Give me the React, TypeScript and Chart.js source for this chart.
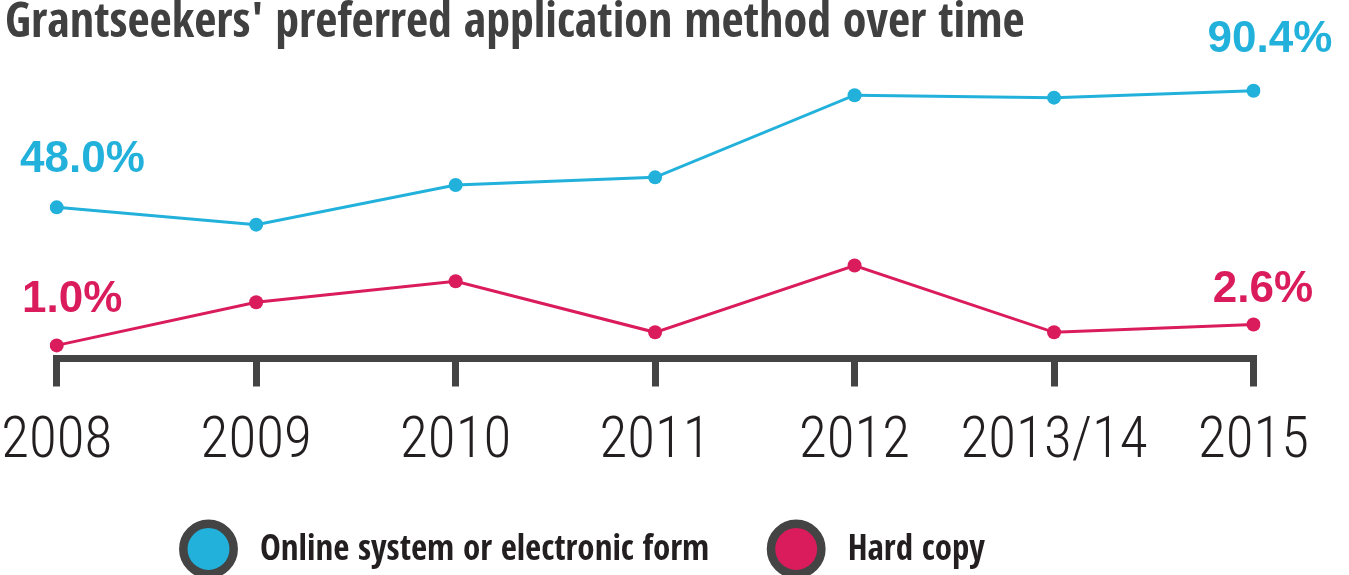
import React, { useEffect, useRef } from 'react';
import { Chart, registerables } from 'chart.js';

Chart.register(...registerables);

const chartTitle = "Grantseekers' preferred application method over time";
const categories = ['2008', '2009', '2010', '2011', '2012', '2013/14', '2015'];
const onlineLabel = 'Online system or electronic form';
const onlineValues = [48.0, 41.7, 56.1, 58.9, 88.8, 87.9, 90.4];
const hardLabel = 'Hard copy';
const hardValues = [1.0, 4.3, 5.9, 2.0, 7.1, 2.0, 2.6];

const ONLINE_COLOR = '#21b1db';
const HARD_COLOR = '#da1c5c';
const AXIS_COLOR = '#444444';
const TEXT_COLOR = '#231f20';

const BOLD_FAMILY = '"Open Sans Condensed", "Roboto Condensed", sans-serif';
const LIGHT_FAMILY = '"Roboto Condensed", "DejaVu Sans Condensed", sans-serif';

function fitSize(family: string, weight: string, text: string, target: number, maxSize: number): number {
  const c = document.createElement('canvas').getContext('2d') as CanvasRenderingContext2D;
  c.font = `${weight} 100px ${family}`;
  const w = c.measureText(text).width;
  return Math.min(maxSize, (100 * target) / w);
}

// label placement relative to the first / last point of each series
const labelOffsets = [
  [
    { align: 'left', dx: -36.7, dy: -35 },
    { align: 'center', dx: 16.5, dy: -38.7 },
  ],
  [
    { align: 'left', dx: -34.7, dy: -33.7 },
    { align: 'center', dx: 9.5, dy: -22.7 },
  ],
];

const endLabelsPlugin = {
  id: 'endLabels',
  afterDatasetsDraw(chart: any) {
    const ctx = chart.ctx;
    ctx.save();
    ctx.font = 'bold 44px "Liberation Sans"';
    ctx.textBaseline = 'alphabetic';
    chart.data.datasets.forEach((ds: any, di: number) => {
      const meta = chart.getDatasetMeta(di);
      const n = meta.data.length;
      [0, n - 1].forEach((idx, k) => {
        const pt = meta.data[idx];
        const o = labelOffsets[di][k];
        ctx.fillStyle = ds.borderColor;
        ctx.textAlign = o.align;
        ctx.fillText(Number(ds.data[idx]).toFixed(1) + '%', pt.x + o.dx, pt.y + o.dy);
      });
    });
    ctx.restore();
  },
};

const ringLegendPlugin = {
  id: 'ringLegend',
  afterDraw(chart: any) {
    const ctx = chart.ctx;
    ctx.save();
    ctx.font = `bold 35px ${BOLD_FAMILY}`;
    ctx.textBaseline = 'middle';
    ctx.textAlign = 'left';
    let cx = 208.5;
    const cy = 549;
    chart.data.datasets.forEach((ds: any) => {
      ctx.beginPath();
      ctx.arc(cx, cy, 25.2, 0, Math.PI * 2);
      ctx.fillStyle = ds.borderColor;
      ctx.fill();
      ctx.lineWidth = 8.5;
      ctx.strokeStyle = AXIS_COLOR;
      ctx.stroke();
      ctx.fillStyle = TEXT_COLOR;
      const tx = cx + 51.5;
      ctx.fillText(ds.label, tx, cy + 2);
      cx = tx + ctx.measureText(ds.label).width + 87;
    });
    ctx.restore();
  },
};

export default function App() {
  const ref = useRef<HTMLCanvasElement>(null);

  useEffect(() => {
    const tickSize = fitSize(LIGHT_FAMILY, '300', '2013/14', 187, 64);

    const chart = new Chart(ref.current as HTMLCanvasElement, {
      type: 'line',
      data: {
        labels: categories,
        datasets: [
          {
            label: onlineLabel,
            data: onlineValues,
            yAxisID: 'y',
            borderColor: ONLINE_COLOR,
            backgroundColor: ONLINE_COLOR,
            pointBackgroundColor: ONLINE_COLOR,
            borderWidth: 3,
            pointRadius: 7,
            pointBorderWidth: 0,
            tension: 0,
          },
          {
            label: hardLabel,
            data: hardValues,
            yAxisID: 'y1',
            borderColor: HARD_COLOR,
            backgroundColor: HARD_COLOR,
            pointBackgroundColor: HARD_COLOR,
            borderWidth: 3,
            pointRadius: 7,
            pointBorderWidth: 0,
            tension: 0,
          },
        ],
      },
      options: {
        responsive: true,
        maintainAspectRatio: false,
        animation: false,
        layout: { padding: { left: 5, right: 0, top: 0, bottom: 75.5 } },
        plugins: {
          legend: { display: false },
          tooltip: { enabled: false },
          title: {
            display: true,
            text: chartTitle,
            align: 'start',
            color: '#404040',
            font: { family: BOLD_FAMILY, weight: 'bold', size: 48, lineHeight: '48px' },
            padding: { top: 0, bottom: 12 },
          },
        },
        scales: {
          x: {
            type: 'category',
            offset: false,
            grid: {
              display: true,
              drawOnChartArea: false,
              drawTicks: true,
              tickLength: 28,
              lineWidth: 7,
              color: AXIS_COLOR,
            },
            border: { display: true, width: 7, color: AXIS_COLOR },
            ticks: {
              padding: 0,
              autoSkip: false,
              maxRotation: 0,
              color: TEXT_COLOR,
              font: { family: LIGHT_FAMILY, weight: '300', size: tickSize, lineHeight: '113px' },
            },
            afterFit: (s: any) => {
              s.paddingLeft = 0;
              s.paddingRight = 0;
            },
          },
          y: {
            position: 'left',
            min: -7.0,
            max: 101.6,
            ticks: { display: false },
            grid: { display: false },
            border: { display: false },
            afterFit: (s: any) => {
              s.width = 51.7;
            },
          },
          y1: {
            position: 'right',
            min: 0,
            max: 22.8,
            ticks: { display: false },
            grid: { display: false },
            border: { display: false },
            afterFit: (s: any) => {
              s.width = 95.5;
            },
          },
        },
      } as any,
      plugins: [endLabelsPlugin, ringLegendPlugin],
    });
    return () => chart.destroy();
  }, []);

  return (
    <div style={{ position: 'fixed', left: 0, top: 0, width: 1349, height: 575, background: '#ffffff' }}>
      <canvas ref={ref} />
    </div>
  );
}
